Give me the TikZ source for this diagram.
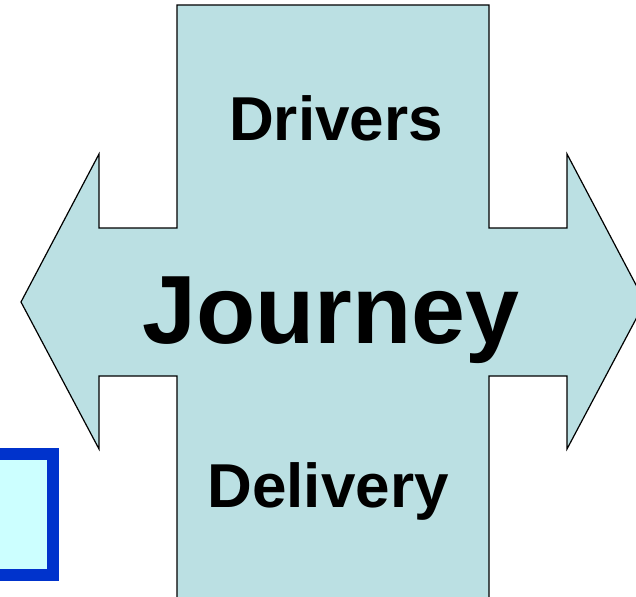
\documentclass[tikz,border=0pt]{standalone}
\usepackage{fontspec}
\setmainfont{Liberation Sans}
\definecolor{arrowfill}{HTML}{BBE0E3}
\definecolor{boxfill}{HTML}{CCFFFF}
\definecolor{boxline}{HTML}{0033CC}
\begin{document}
\begin{tikzpicture}[x=1pt,y=-1pt]

      \useasboundingbox (0,0) rectangle (636,596);
      \clip (0,0) rectangle (636,596);

      % box at the lower left
      \draw[boxline,fill=boxfill,line width=12pt] (-20,454) rectangle (53,575);

      % the cross with two arrow heads
      \draw[fill=arrowfill,line width=1.2pt,line join=miter]
        (177,5) -- (489,5) -- (489,228) -- (567,228) -- (567,154)
        -- (645,302) -- (567,449) -- (567,376) -- (489,376) -- (489,610)
        -- (177,610) -- (177,376) -- (99,376) -- (99,449) -- (21,302)
        -- (99,154) -- (99,228) -- (177,228) -- cycle;

      \begin{scope}[every node/.style={font=\bfseries,inner sep=0pt,anchor=base}]
        \node (drivers)  at (336,141) {\fontsize{62}{62}\selectfont Drivers};
        \node (journey)  at (331,343) {\fontsize{97}{97}\selectfont Journey};
        \node (delivery) at (328,507) {\fontsize{62}{62}\selectfont Delivery};
      \end{scope}

    \end{tikzpicture}
\end{document}
